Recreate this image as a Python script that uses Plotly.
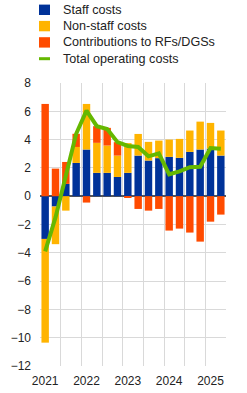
import plotly.graph_objects as go

quarters = ["2021Q1", "2021Q2", "2021Q3", "2021Q4",
            "2022Q1", "2022Q2", "2022Q3", "2022Q4",
            "2023Q1", "2023Q2", "2023Q3", "2023Q4",
            "2024Q1", "2024Q2", "2024Q3", "2024Q4",
            "2025Q1", "2025Q2"]
staff = [-3.02, -0.73, 0.87, 2.35, 3.30, 1.65, 1.65, 1.36, 1.65, 2.87, 2.52, 2.69,
         2.78, 2.71, 3.13, 3.30, 3.36, 2.87]
non_staff = [-7.33, -2.66, -1.02, 1.13, 3.22, 2.12, 1.93, 1.51, 2.10, 1.53, 1.32, 1.24,
             1.22, 1.34, 1.51, 1.97, 1.82, 1.77]
contrib = [6.52, 1.95, 1.55, 0.93, -0.45, 1.18, 1.25, 0.95, -0.10, -0.90, -1.02, -0.90,
           -2.43, -2.29, -2.57, -3.21, -1.80, -1.30]
total = [-3.9, -1.5, 1.45, 4.41, 6.05, 4.95, 4.75, 3.82, 3.55, 3.48, 2.82, 3.03,
         1.55, 1.75, 2.05, 2.08, 3.40, 3.35]
year_labels = ["2021", "2022", "2023", "2024", "2025"]
series_names = ["Staff costs", "Non-staff costs", "Contributions to RFs/DGSs",
                "Total operating costs"]
series_colors = ["#003299", "#FFB400", "#FF4B00", "#65B800"]

x = list(range(len(quarters)))
year_pos = [i for i, q in enumerate(quarters) if q.endswith("Q1")]
grid_pos = [i - 0.5 for i in range(0, len(quarters) + 1, 2)]

W, H = 247, 393
ML, MR, MT, MB = 40, 21, 83, 27
PW, PH = W - ML - MR, H - MT - MB


def px_x(p):
    return (p - ML) / PW


def px_y(p):
    return (H - MB - p) / PH


font = "Arial, Liberation Sans, sans-serif"
fig = go.Figure()
for vals, name, col in zip([staff, non_staff, contrib], series_names[:3], series_colors[:3]):
    fig.add_trace(go.Bar(x=x, y=vals, name=name, marker_color=col, marker_line_width=0))
fig.add_trace(go.Scatter(x=x, y=total, name=series_names[3], mode="lines",
                         line=dict(color=series_colors[3], width=4)))

# custom legend (compact, like the reference)
shapes, annots = [], []
for i, (name, col) in enumerate(zip(series_names, series_colors)):
    cy = 9.8 + 16.3 * i
    if i < 3:
        shapes.append(dict(type="rect", xref="paper", yref="paper",
                           x0=px_x(39), x1=px_x(50), y0=px_y(cy - 5.2), y1=px_y(cy + 5.2),
                           fillcolor=col, line=dict(width=0), layer="above"))
    else:
        shapes.append(dict(type="line", xref="paper", yref="paper",
                           x0=px_x(39), x1=px_x(50), y0=px_y(cy), y1=px_y(cy),
                           line=dict(color=col, width=3), layer="above"))
    annots.append(dict(text=name, xref="paper", yref="paper", x=px_x(61), y=px_y(cy),
                       xanchor="left", yanchor="middle", showarrow=False,
                       font=dict(size=12.6, color="#222222", family=font)))

fig.update_layout(
    width=W, height=H,
    margin=dict(l=ML, r=MR, t=MT, b=MB, autoexpand=False),
    barmode="relative", bargap=0.28,
    plot_bgcolor="white", paper_bgcolor="white",
    font=dict(family=font, size=12, color="#222222"),
    showlegend=False,
    shapes=shapes, annotations=annots,
)
fig.update_xaxes(range=[-0.5, len(quarters) - 0.5], tickmode="array",
                 tickvals=year_pos, ticktext=year_labels, showgrid=False,
                 ticks="", zeroline=False, showline=False, ticklabelstandoff=6,
                 minor=dict(tickmode="array", tickvals=grid_pos, showgrid=True,
                            gridcolor="#d9d9d9", gridwidth=1, ticks=""),
                 tickfont=dict(size=12, color="#222222"))
fig.update_yaxes(range=[-12, 8], dtick=2, tick0=0, showgrid=True, gridcolor="#d9d9d9",
                 gridwidth=1, zeroline=True, zerolinecolor="#555555", zerolinewidth=1.5,
                 showline=False, ticks="", ticklabelstandoff=8,
                 tickfont=dict(size=12, color="#222222"))

fig.write_html("out.html")
